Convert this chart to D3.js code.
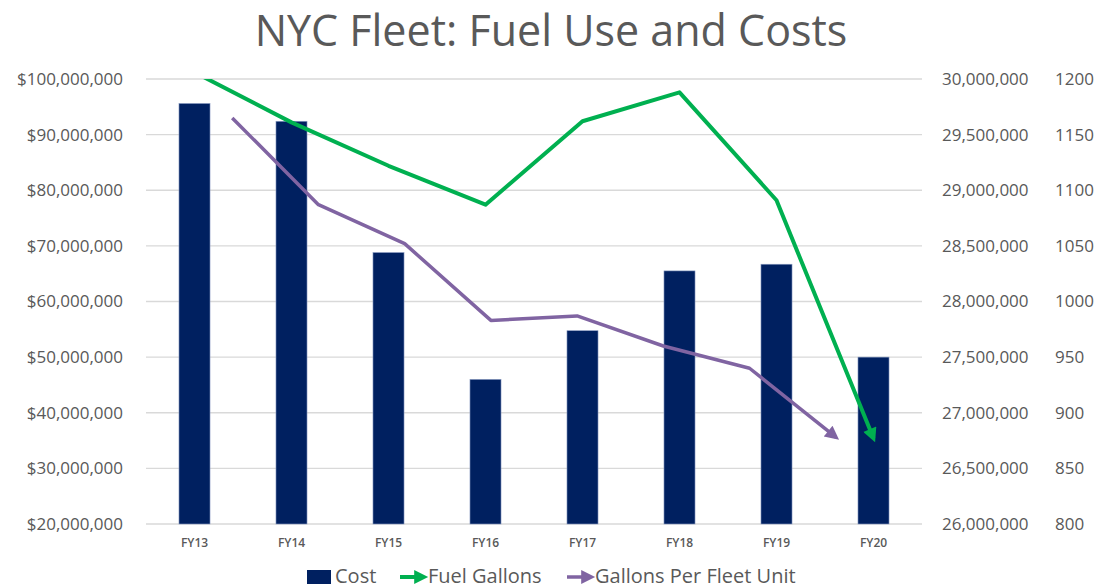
<html>
<head>
	<script src="https://d3js.org/d3.v7.min.js" charset="utf-8"></script>
	<style type="text/css">
	body { margin: 0; background: white; }
	text { font-family: "Open Sans", sans-serif; fill: #595959; }
	</style>
</head>
<body>
<script type="text/javascript">
	//Width and height
	var w = 1101;
	var h = 588;

	//data
	var years = ["FY13","FY14","FY15","FY16","FY17","FY18","FY19","FY20"];
	var cost = [95600000, 92400000, 68800000, 46000000, 54750000, 65500000, 66700000, 50000000];
	var fuelGallons = [30060000, 29610000, 29220000, 28870000, 29620000, 29880000, 28910000, 26770000];
	var perUnit = [1165, 1087, 1052, 983, 987, 960, 940, 878];
	var costTicks = [20000000, 30000000, 40000000, 50000000, 60000000, 70000000, 80000000, 90000000, 100000000];
	var gallonTicks = [26000000, 26500000, 27000000, 27500000, 28000000, 28500000, 29000000, 29500000, 30000000];
	var unitTicks = [800, 850, 900, 950, 1000, 1050, 1100, 1150, 1200];

	var pLeft = 146, pRight = 922, pTop = 79, pBottom = 524;

	var svg = d3.select("body")
		.append("svg")
		.attr("width", w)
		.attr("height", h);

	var x = d3.scaleBand().domain(years).range([pLeft, pRight]).paddingInner(0.68).paddingOuter(0.34);
	// purple series sits on its own hidden category axis
	var x2 = d3.scalePoint().domain(["_a"].concat(years, ["_b"])).range([pLeft, pRight]);
	var yCost = d3.scaleLinear().domain([20000000, 100000000]).range([pBottom, pTop]);
	var yGal = d3.scaleLinear().domain([26000000, 30000000]).range([pBottom, pTop]);
	var yUnit = d3.scaleLinear().domain([800, 1200]).range([pBottom, pTop]);

	var defs = svg.append("defs");
	defs.append("clipPath").attr("id","plot")
		.append("rect").attr("x", pLeft).attr("y", pTop).attr("width", pRight-pLeft).attr("height", pBottom-pTop);
	function arrow(id, color) {
		defs.append("marker")
			.attr("id", id)
			.attr("viewBox","0 0 10 10")
			.attr("refX", 7)
			.attr("refY", 5)
			.attr("markerWidth", 16)
			.attr("markerHeight", 14)
			.attr("markerUnits","userSpaceOnUse")
			.attr("orient","auto")
			.append("path").attr("d","M0,0 L10,5 L0,10 z").attr("fill", color);
	}
	arrow("gArrow", "#00b050");
	arrow("pArrow", "#8064a2");

	//title
	svg.append("text")
		.text("NYC Fleet: Fuel Use and Costs")
		.attr("text-anchor","middle")
		.attr("font-size",43)
		.attr("x",551)
		.attr("y",46);

	//gridlines
	svg.append("g").selectAll("line").data(costTicks).enter().append("line")
		.attr("x1", pLeft).attr("x2", pRight)
		.attr("y1", function(d){ return yCost(d); })
		.attr("y2", function(d){ return yCost(d); })
		.attr("stroke","#d9d9d9").attr("stroke-width",1.3);

	//axis labels
	var fmt = d3.format(",");
	svg.append("g").selectAll("text").data(costTicks).enter().append("text")
		.text(function(d){ return "$" + fmt(d); })
		.attr("text-anchor","end")
		.attr("font-size",17)
		.attr("x",123)
		.attr("y",function(d){ return yCost(d); })
		.attr("dy","0.35em");
	svg.append("g").selectAll("text").data(gallonTicks).enter().append("text")
		.text(function(d){ return fmt(d); })
		.attr("font-size",17)
		.attr("x",942)
		.attr("y",function(d){ return yGal(d); })
		.attr("dy","0.35em");
	svg.append("g").selectAll("text").data(unitTicks).enter().append("text")
		.text(function(d){ return d; })
		.attr("font-size",17)
		.attr("x",1055)
		.attr("y",function(d){ return yUnit(d); })
		.attr("dy","0.35em");
	svg.append("g").selectAll("text").data(years).enter().append("text")
		.text(function(d){ return d; })
		.attr("text-anchor","middle")
		.attr("font-size",12)
		.attr("font-weight",600)
		.attr("x",function(d){ return x(d) + x.bandwidth()/2; })
		.attr("y",547);

	//bars
	svg.append("g").selectAll("rect").data(cost).enter().append("rect")
		.attr("x", function(d,i){ return x(years[i]); })
		.attr("y", function(d){ return yCost(d); })
		.attr("width", x.bandwidth())
		.attr("height", function(d){ return pBottom - yCost(d); })
		.attr("fill","#002060")
		.attr("stroke","#8a9cc2")
		.attr("stroke-width",0.6);

	//lines
	var gLine = d3.line()
		.x(function(d,i){ return x(years[i]) + x.bandwidth()/2; })
		.y(function(d){ return yGal(d); });
	svg.append("path")
		.datum(fuelGallons)
		.attr("d", gLine)
		.attr("clip-path","url(#plot)")
		.attr("fill","none")
		.attr("stroke","#00b050")
		.attr("stroke-width",4)
		.attr("stroke-linejoin","round");
	// arrow head drawn unclipped on the last segment
	svg.append("path")
		.datum(fuelGallons.slice(-2))
		.attr("d", d3.line()
			.x(function(d,i){ return x(years[6+i]) + x.bandwidth()/2; })
			.y(function(d){ return yGal(d); }))
		.attr("fill","none")
		.attr("stroke","none")
		.attr("marker-end","url(#gArrow)");

	var pLine = d3.line()
		.x(function(d,i){ return x2(years[i]); })
		.y(function(d){ return yUnit(d); });
	svg.append("path")
		.datum(perUnit)
		.attr("d", pLine)
		.attr("fill","none")
		.attr("stroke","#8064a2")
		.attr("stroke-width",3.5)
		.attr("stroke-linejoin","round")
		.attr("marker-end","url(#pArrow)");

	//legend
	var lg = svg.append("g");
	lg.append("rect").attr("x",307).attr("y",570).attr("width",24).attr("height",14).attr("fill","#002060");
	lg.append("text").text("Cost").attr("font-size",20).attr("x",335).attr("y",583);
	lg.append("line").attr("x1",400).attr("x2",424).attr("y1",577).attr("y2",577)
		.attr("stroke","#00b050").attr("stroke-width",4).attr("marker-end","url(#gArrow)");
	lg.append("text").text("Fuel Gallons").attr("font-size",20).attr("x",428).attr("y",583);
	lg.append("line").attr("x1",567).attr("x2",591).attr("y1",577).attr("y2",577)
		.attr("stroke","#8064a2").attr("stroke-width",3.5).attr("marker-end","url(#pArrow)");
	lg.append("text").text("Gallons Per Fleet Unit").attr("font-size",20).attr("x",595).attr("y",583);
</script>
</body>
</html>
